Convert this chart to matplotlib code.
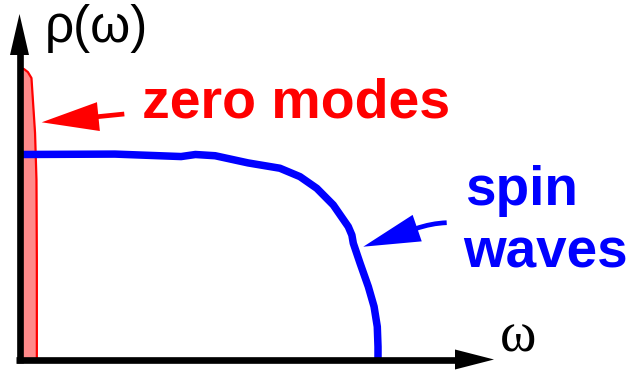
import matplotlib
matplotlib.use("Agg")
import matplotlib.pyplot as plt
from matplotlib.patches import Polygon, PathPatch
from matplotlib.path import Path
import numpy as np

# ---- data (omega in units of band edge, rho in units of plateau) ----
spin_omega = [0.0, 0.265, 0.45, 0.49, 0.545, 0.637, 0.726, 0.782, 0.829,
              0.875, 0.917, 0.927, 0.931, 0.950, 0.973, 0.989, 0.998, 1.0, 1.0]
spin_rho = [1.0, 1.002, 0.99, 1.0, 0.994, 0.959, 0.933, 0.892, 0.835,
            0.754, 0.648, 0.607, 0.567, 0.469, 0.355, 0.258, 0.160, 0.062, 0.0]

zero_omega = [0.0, 0.011, 0.022, 0.032, 0.036, 0.042, 0.046, 0.047, 0.047]
zero_rho = [1.422, 1.417, 1.402, 1.373, 1.266, 1.105, 0.876, 0.485, 0.0]

ylabel_text = "ρ(ω)"
xlabel_text = "ω"
zero_label = "zero modes"
spin_label_1 = "spin"
spin_label_2 = "waves"

RED = "#ff0000"
PINK = "#ff8a8a"
BLUE = "#0000ff"

fig = plt.figure(figsize=(6.32, 3.73), dpi=100)

# data axes
ax = fig.add_axes([0, 0, 1, 1])
ax.set_xlim(-0.0559, 1.7095)
ax.set_ylim(-0.0659, 1.7537)
ax.axis("off")

zx = np.array(zero_omega)
zy = np.array(zero_rho)
ax.fill_between(zx, 0, zy, color=PINK, lw=0, zorder=1)
ax.plot(np.r_[zx, 0.0], np.r_[zy, 0.0], color=RED, lw=1.6, zorder=2)
ax.plot(spin_omega, spin_rho, color=BLUE, lw=5.4, solid_capstyle="butt",
        solid_joinstyle="round", zorder=3)

# decoration axes in pixel units
deco = fig.add_axes([0, 0, 1, 1])
deco.set_xlim(0, 632)
deco.set_ylim(373, 0)
deco.axis("off")
deco.patch.set_alpha(0)


def arrow(tail, tip, color, lw, head_len, head_half, ctrl=None):
    tail = np.array(tail, float)
    tip = np.array(tip, float)
    if ctrl is None:
        d = tip - tail
    else:
        d = tip - np.array(ctrl, float)
    d = d / np.hypot(*d)
    n = np.array([-d[1], d[0]])
    base = tip - d * head_len
    if ctrl is None:
        deco.plot([tail[0], base[0] + d[0] * 2], [tail[1], base[1] + d[1] * 2],
                  color=color, lw=lw, solid_capstyle="butt")
    else:
        c = np.array(ctrl, float)
        path = Path([tail, c, base + d * 2],
                    [Path.MOVETO, Path.CURVE3, Path.CURVE3])
        deco.add_patch(PathPatch(path, fc="none", ec=color, lw=lw,
                                 capstyle="butt"))
    head = Polygon([tip, base + n * head_half, base - n * head_half],
                   closed=True, fc=color, ec="none")
    deco.add_patch(head)


# coordinate axes
arrow((19.5, 363.0), (19.5, 14.0), "black", 4.8, 41, 9.5)
arrow((16.0, 359.5), (494.0, 359.5), "black", 4.8, 39, 10)

# pointer arrows
arrow((124.3, 114.0), (41.7, 122.3), RED, 3.4, 57, 14.5)
arrow((446.7, 222.7), (363.3, 246.7), BLUE, 3.4, 57, 14.0,
      ctrl=(431.5, 223.2))

# texts
deco.text(45, 42, ylabel_text, family="Liberation Sans", fontsize=37,
          ha="left", va="baseline")
deco.text(500, 352, xlabel_text, family="Liberation Serif", fontsize=40,
          ha="left", va="baseline")
deco.text(142, 117, zero_label, family="Liberation Sans", weight="bold",
          fontsize=40, color=RED, ha="left", va="baseline")
deco.text(465, 205, spin_label_1, family="Liberation Sans", weight="bold",
          fontsize=39.5, color=BLUE, ha="left", va="baseline")
deco.text(463, 268, spin_label_2, family="Liberation Sans", weight="bold",
          fontsize=39.5, color=BLUE, ha="left", va="baseline")

fig.savefig("out.png", dpi=100)
